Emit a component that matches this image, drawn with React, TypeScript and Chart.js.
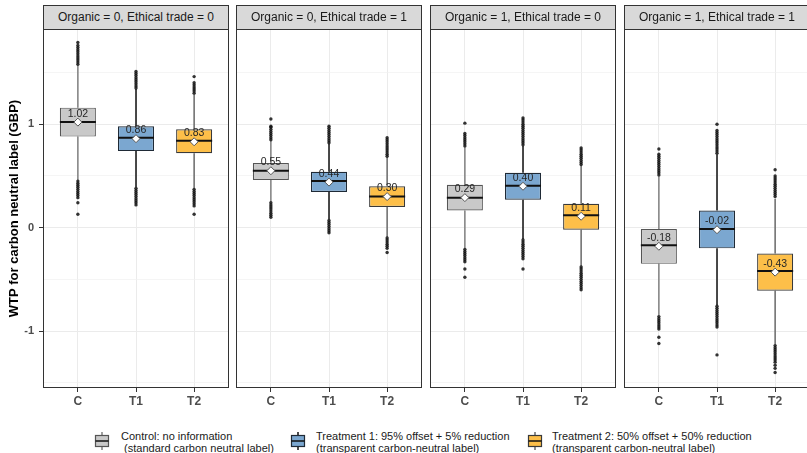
import React, { useEffect, useRef } from 'react';
import { Chart, registerables } from 'chart.js';

Chart.register(...registerables);

const FONT = '"Liberation Sans", Arial, sans-serif';

const categories = ['C', 'T1', 'T2'];
const panelTitles = [
  'Organic = 0, Ethical trade = 0',
  'Organic = 0, Ethical trade = 1',
  'Organic = 1, Ethical trade = 0',
  'Organic = 1, Ethical trade = 1',
];
const legendLabels = [
  'Control: no information\n (standard carbon neutral label)',
  'Treatment 1: 95% offset + 5% reduction\n(transparent carbon-neutral label)',
  'Treatment 2: 50% offset + 50% reduction\n(transparent carbon-neutral label)',
];
const yTickValues = [-1.5, -1, -0.5, 0, 0.5, 1, 1.5];
const yMin = -1.55;
const yMax = 1.92;

// per panel, per group [C, T1, T2]
const q1Values = [[0.88, 0.74, 0.72], [0.46, 0.345, 0.2], [0.165, 0.27, -0.02], [-0.35, -0.2, -0.61]];
const medianValues = [[1.02, 0.87, 0.84], [0.55, 0.45, 0.3], [0.29, 0.405, 0.12], [-0.17, -0.013, -0.42]];
const q3Values = [[1.16, 0.98, 0.95], [0.625, 0.54, 0.4], [0.415, 0.53, 0.23], [-0.013, 0.165, -0.25]];
const whiskerLowValues = [[0.46, 0.39, 0.38], [0.25, 0.08, -0.09], [-0.2, -0.11, -0.37], [-0.85, -0.75, -1.13]];
const whiskerHighValues = [[1.57, 1.34, 1.29], [0.84, 0.81, 0.68], [0.78, 0.79, 0.6], [0.5, 0.71, 0.28]];
const meanValues = [[1.02, 0.86, 0.83], [0.55, 0.44, 0.3], [0.29, 0.4, 0.11], [-0.18, -0.02, -0.43]];

const outlierValues = [
  [
    [1.58, 1.6, 1.62, 1.64, 1.66, 1.68, 1.7, 1.72, 1.74, 1.76, 1.79, 0.45, 0.43, 0.41, 0.39, 0.37, 0.35, 0.33, 0.31, 0.29, 0.24, 0.13],
    [1.35, 1.37, 1.39, 1.41, 1.43, 1.45, 1.47, 1.49, 1.51, 0.38, 0.36, 0.34, 0.32, 0.3, 0.28, 0.26, 0.24, 0.22],
    [1.3, 1.32, 1.34, 1.36, 1.38, 1.4, 1.46, 0.37, 0.35, 0.33, 0.31, 0.29, 0.27, 0.25, 0.23, 0.21, 0.13],
  ],
  [
    [0.85, 0.87, 0.89, 0.91, 0.93, 0.95, 0.97, 0.98, 1.05, 0.24, 0.22, 0.2, 0.18, 0.16, 0.14, 0.12, 0.1],
    [0.82, 0.84, 0.86, 0.88, 0.9, 0.92, 0.94, 0.96, 0.98, 0.07, 0.05, 0.03, 0.01, -0.01, -0.03, -0.05],
    [0.69, 0.71, 0.73, 0.75, 0.77, 0.79, 0.81, 0.83, 0.85, 0.87, -0.1, -0.12, -0.14, -0.16, -0.18, -0.2, -0.24],
  ],
  [
    [0.79, 0.81, 0.83, 0.85, 0.87, 0.89, 0.91, 1.01, -0.21, -0.23, -0.25, -0.27, -0.29, -0.31, -0.33, -0.4, -0.48],
    [0.8, 0.82, 0.84, 0.86, 0.88, 0.9, 0.92, 0.94, 0.96, 0.98, 1.0, 1.02, 1.04, 1.06, -0.12, -0.14, -0.16, -0.18, -0.2, -0.22, -0.24, -0.26, -0.28, -0.3, -0.4],
    [0.61, 0.63, 0.65, 0.67, 0.69, 0.71, 0.73, 0.75, 0.77, -0.38, -0.4, -0.42, -0.44, -0.46, -0.48, -0.5, -0.52, -0.54, -0.56, -0.58, -0.6],
  ],
  [
    [0.51, 0.53, 0.55, 0.57, 0.59, 0.61, 0.63, 0.65, 0.67, 0.69, 0.71, 0.76, -0.86, -0.88, -0.9, -0.92, -0.94, -0.96, -0.98, -1.06, -1.12],
    [0.72, 0.74, 0.76, 0.78, 0.8, 0.82, 0.84, 0.86, 0.88, 0.9, 0.92, 0.94, 1.0, -0.76, -0.78, -0.8, -0.82, -0.84, -0.86, -0.88, -0.9, -0.92, -0.94, -0.96, -1.23],
    [0.3, 0.32, 0.34, 0.36, 0.38, 0.4, 0.42, 0.44, 0.46, 0.48, 0.5, 0.56, -1.14, -1.16, -1.18, -1.2, -1.22, -1.24, -1.26, -1.28, -1.3, -1.33, -1.36, -1.4],
  ],
];

const boxFills = ['#C9C9C9', '#7BA7D0', '#FDBF49'];
const boxBorders = ['#555555', '#1F2A36', '#3A3A3A'];
const whiskerColors = ['#808080', '#111111', '#6A6A6A'];

const PLOT_LEFTS = [43, 236, 430, 624];
const PLOT_W = 186;
const CANVAS_TOP = 28;
const CANVAS_H = 390;

function zeroPadding(s: any) {
  s.paddingTop = 0;
  s.paddingBottom = 0;
  s.paddingLeft = 0;
  s.paddingRight = 0;
}

function Panel({ index }: { index: number }) {
  const ref = useRef<HTMLCanvasElement>(null);
  const first = index === 0;
  const canvasLeft = first ? 0 : PLOT_LEFTS[index] - 1;
  const canvasW = first ? PLOT_LEFTS[0] + PLOT_W + 1 : PLOT_W + 2;

  useEffect(() => {
    if (!ref.current) return;
    const groups = [0, 1, 2];
    const boxData = groups.map((g) => ({ x: g + 1, y: [q1Values[index][g], q3Values[index][g]] }));
    const outlierData = groups.flatMap((g) => outlierValues[index][g].map((v) => ({ x: g + 1, y: v })));
    const meanData = groups.map((g) => ({ x: g + 1, y: meanValues[index][g] }));

    const boxPlugin = {
      id: 'boxExtras',
      beforeDatasetDraw(chart: any, args: any) {
        if (args.index !== 2) return;
        const { ctx } = chart;
        const xs = chart.scales.x;
        const ys = chart.scales.y;
        ctx.save();
        groups.forEach((g) => {
          const px = xs.getPixelForValue(g + 1);
          ctx.strokeStyle = whiskerColors[g];
          ctx.lineWidth = 1.5;
          ctx.beginPath();
          ctx.moveTo(px, ys.getPixelForValue(whiskerHighValues[index][g]));
          ctx.lineTo(px, ys.getPixelForValue(q3Values[index][g]));
          ctx.moveTo(px, ys.getPixelForValue(q1Values[index][g]));
          ctx.lineTo(px, ys.getPixelForValue(whiskerLowValues[index][g]));
          ctx.stroke();
        });
        ctx.restore();
      },
      afterDatasetDraw(chart: any, args: any) {
        if (args.index !== 2) return;
        const { ctx } = chart;
        const ys = chart.scales.y;
        const meta = chart.getDatasetMeta(2);
        ctx.save();
        groups.forEach((g) => {
          const el = meta.data[g];
          const py = ys.getPixelForValue(medianValues[index][g]);
          ctx.strokeStyle = '#111111';
          ctx.lineWidth = 2;
          ctx.beginPath();
          ctx.moveTo(el.x - el.width / 2, py);
          ctx.lineTo(el.x + el.width / 2, py);
          ctx.stroke();
        });
        ctx.restore();
      },
      afterDatasetsDraw(chart: any) {
        const { ctx } = chart;
        const xs = chart.scales.x;
        const ys = chart.scales.y;
        ctx.save();
        ctx.font = `10.5px ${FONT}`;
        ctx.fillStyle = '#262626';
        ctx.textAlign = 'center';
        ctx.textBaseline = 'middle';
        groups.forEach((g) => {
          const v = meanValues[index][g];
          ctx.fillText(v.toFixed(2), xs.getPixelForValue(g + 1), ys.getPixelForValue(v) - 8.5);
        });
        ctx.restore();
      },
      afterDraw(chart: any) {
        const { ctx, chartArea } = chart;
        ctx.save();
        ctx.strokeStyle = '#333333';
        ctx.lineWidth = 1;
        ctx.strokeRect(
          chartArea.left + 0.5,
          chartArea.top + 0.5,
          chartArea.right - chartArea.left - 1,
          chartArea.bottom - chartArea.top - 1,
        );
        ctx.restore();
      },
    };

    const chart = new Chart(ref.current, {
      type: 'bar',
      data: {
        datasets: [
          {
            type: 'scatter',
            data: meanData,
            pointStyle: 'rectRot',
            pointRadius: 4,
            backgroundColor: '#FFFFFF',
            borderColor: '#555555',
            borderWidth: 1,
          } as any,
          {
            type: 'scatter',
            data: outlierData,
            pointRadius: 1.7,
            backgroundColor: 'rgba(17,17,17,0.85)',
            borderWidth: 0,
          } as any,
          {
            type: 'bar',
            data: boxData,
            backgroundColor: boxFills,
            borderColor: boxBorders,
            borderWidth: 1.2,
            borderSkipped: false,
            barPercentage: 0.62,
            categoryPercentage: 1,
          } as any,
        ],
      },
      options: {
        responsive: false,
        animation: false,
        devicePixelRatio: 1,
        layout: { autoPadding: false, padding: { left: first ? 0 : 1, right: 1, top: 1, bottom: 0 } },
        plugins: { legend: { display: false }, tooltip: { enabled: false }, title: { display: false } },
        scales: {
          x: {
            type: 'linear',
            min: 0.4,
            max: 3.6,
            offset: false,
            afterBuildTicks: (s: any) => {
              s.ticks = [1, 2, 3].map((v) => ({ value: v }));
            },
            afterFit: (s: any) => {
              s.height = 30;
              zeroPadding(s);
            },
            ticks: {
              callback: (v: any) => categories[Math.round(v) - 1] ?? '',
              font: { family: FONT, size: 12, weight: 'bold' },
              color: '#4D4D4D',
              padding: 2,
              maxRotation: 0,
              autoSkip: false,
            },
            grid: { color: '#EBEBEB', lineWidth: 1, tickColor: '#333333', tickLength: 4, offset: false },
            border: { display: false },
          },
          y: {
            type: 'linear',
            min: yMin,
            max: yMax,
            afterBuildTicks: (s: any) => {
              s.ticks = yTickValues.map((v) => ({ value: v }));
            },
            afterFit: (s: any) => {
              s.width = first ? 43 : 0;
              zeroPadding(s);
            },
            ticks: {
              display: first,
              callback: (v: any) => (Number.isInteger(v) ? String(v) : ''),
              font: { family: FONT, size: 11, weight: 'bold' },
              color: '#4D4D4D',
              padding: 5,
            },
            grid: {
              color: (c: any) => (Number.isInteger(c.tick?.value) ? '#EBEBEB' : '#F1F1F1'),
              lineWidth: (c: any) => (Number.isInteger(c.tick?.value) ? 1 : 0.7),
              tickColor: (c: any) => (Number.isInteger(c.tick?.value) ? '#333333' : 'rgba(0,0,0,0)'),
              drawTicks: first,
              tickLength: 4,
            },
            border: { display: false },
            title: {
              display: first,
              text: 'WTP for carbon neutral label (GBP)',
              font: { family: FONT, size: 13, weight: 'bold' },
              color: '#000000',
              padding: { top: 7, bottom: 0 },
            },
          },
        },
      } as any,
      plugins: [boxPlugin],
    });
    return () => chart.destroy();
  }, [index, first]);

  return (
    <canvas
      ref={ref}
      width={canvasW}
      height={CANVAS_H}
      style={{ position: 'absolute', left: canvasLeft, top: CANVAS_TOP, width: canvasW, height: CANVAS_H }}
    />
  );
}

function LegendGlyph({ g }: { g: number }) {
  return (
    <svg width={16} height={18} style={{ display: 'block' }}>
      <line x1={8} y1={0} x2={8} y2={18} stroke={whiskerColors[g]} strokeWidth={1.5} />
      <rect x={1.5} y={3.5} width={13} height={11} fill={boxFills[g]} stroke={boxBorders[g]} strokeWidth={1.2} />
      <line x1={1.5} y1={9} x2={14.5} y2={9} stroke="#111111" strokeWidth={1.5} />
    </svg>
  );
}

const legendGlyphLefts = [94, 290, 527];
const legendTextLefts = [121, 316, 552];

export default function App() {
  return (
    <div
      style={{
        position: 'fixed',
        left: 0,
        top: 0,
        width: 807,
        height: 453,
        background: '#FFFFFF',
        overflow: 'hidden',
        fontFamily: FONT,
      }}
    >
      {[0, 1, 2, 3].map((i) => (
        <Panel key={`p${i}`} index={i} />
      ))}
      {panelTitles.map((t, i) => (
        <div
          key={`s${i}`}
          style={{
            position: 'absolute',
            left: PLOT_LEFTS[i],
            top: 5,
            width: PLOT_W,
            height: 25,
            boxSizing: 'border-box',
            border: '1px solid #333333',
            background: '#D9D9D9',
            color: '#1A1A1A',
            fontSize: 12,
            lineHeight: '23px',
            textAlign: 'center',
            whiteSpace: 'nowrap',
          }}
        >
          {t}
        </div>
      ))}
      {legendLabels.map((l, g) => (
        <React.Fragment key={`l${g}`}>
          <div style={{ position: 'absolute', left: legendGlyphLefts[g], top: 432 }}>
            <LegendGlyph g={g} />
          </div>
          <div
            style={{
              position: 'absolute',
              left: legendTextLefts[g],
              top: 430,
              fontSize: 11,
              lineHeight: '12px',
              whiteSpace: 'pre',
              color: '#1A1A1A',
            }}
          >
            {l}
          </div>
        </React.Fragment>
      ))}
    </div>
  );
}
